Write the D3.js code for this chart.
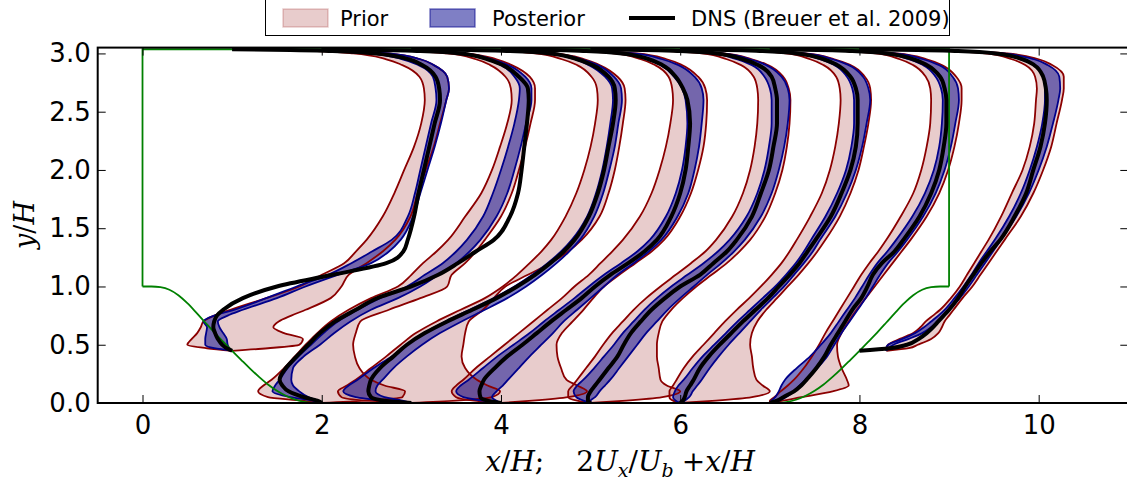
<!DOCTYPE html>
<html><head><meta charset="utf-8">
<script src="https://cdn.jsdelivr.net/npm/d3@7"></script>
<style>body{margin:0;background:#fff;} svg{display:block;}</style>
</head><body>
<svg id="chart" width="1127" height="482"></svg>
<script>
// Streamwise velocity profiles over the periodic hill: x/H + 2*Ux/Ub at eight stations.
const stationX = [1, 2, 3, 4, 5, 6, 7, 8];
// stations 1 and 8 sit on the hill flanks, the others on the flat floor
const yHill = [0.448,0.47,0.5,0.55,0.6,0.65,0.7,0.75,0.8,0.9,1.0,1.1,1.2,1.3,1.4,1.6,1.8,2.0,2.2,2.4,2.6,2.7,2.8,2.9,2.95,3.0,3.02,3.03,3.036];
const yFlat = [0,0.02,0.05,0.1,0.15,0.2,0.3,0.4,0.5,0.6,0.7,0.8,0.9,1.0,1.1,1.2,1.3,1.4,1.6,1.8,2.0,2.2,2.4,2.6,2.7,2.8,2.9,2.95,3.0,3.02,3.03,3.036];
const stationY = [yHill, yFlat, yFlat, yFlat, yFlat, yFlat, yFlat, yHill];

// 2Ux/Ub, DNS (Breuer et al. 2009)
const dnsU = [
  [0,-0.06,-0.11,-0.16,-0.19,-0.21,-0.2,-0.17,-0.1,0.12,0.5,1.12,1.72,1.91,1.96,2.03,2.08,2.14,2.2,2.26,2.32,2.31,2.27,2.12,1.97,1.6,1.12,0.65,0],
  [0,-0.05,-0.2,-0.37,-0.44,-0.47,-0.4,-0.28,-0.15,-0.02,0.15,0.38,0.62,1.0,1.3,1.52,1.72,1.92,2.1,2.19,2.23,2.26,2.29,2.31,2.3,2.2,2.02,1.85,1.55,1.1,0.65,0],
  [0,-0.3,-0.45,-0.48,-0.47,-0.45,-0.35,-0.2,-0.05,0.15,0.4,0.68,0.95,1.18,1.38,1.55,1.7,1.82,1.98,2.08,2.15,2.2,2.25,2.28,2.27,2.2,2.02,1.85,1.55,1.1,0.65,0],
  [0,-0.15,-0.23,-0.24,-0.22,-0.19,-0.07,0.07,0.24,0.4,0.56,0.73,0.9,1.05,1.22,1.42,1.6,1.74,1.9,2.0,2.06,2.09,2.11,2.08,2.03,1.95,1.8,1.65,1.35,0.95,0.55,0],
  [0,-0.03,-0.03,0.0,0.05,0.1,0.2,0.3,0.37,0.45,0.56,0.68,0.83,1.0,1.22,1.37,1.52,1.63,1.8,1.9,1.99,2.04,2.08,2.08,2.06,2.02,1.87,1.7,1.4,1.0,0.57,0],
  [0,0.03,0.05,0.07,0.11,0.15,0.22,0.32,0.44,0.57,0.7,0.84,0.98,1.1,1.22,1.33,1.42,1.51,1.68,1.8,1.9,1.96,1.98,1.98,1.96,1.9,1.75,1.6,1.3,0.92,0.53,0],
  [0,0.08,0.15,0.27,0.35,0.41,0.52,0.61,0.68,0.76,0.84,0.92,1.02,1.09,1.15,1.25,1.39,1.49,1.67,1.8,1.89,1.94,1.97,1.97,1.95,1.9,1.75,1.6,1.3,0.92,0.53,0],
  [0,0.34,0.53,0.66,0.75,0.82,0.88,0.94,1.0,1.1,1.18,1.27,1.36,1.46,1.57,1.73,1.86,1.94,2.02,2.07,2.09,2.08,2.05,1.95,1.82,1.52,1.1,0.65,0]
];
// prior ensemble envelope (min / max of 2Ux/Ub)
const priorLoU = [
  [0,-0.28,-0.5,-0.45,-0.39,-0.35,-0.32,-0.2,-0.02,0.38,0.75,1.0,1.25,1.38,1.5,1.68,1.81,1.92,2.03,2.11,2.15,2.14,2.09,1.9,1.72,1.35,0.95,0.55,0],
  [0,-0.22,-0.6,-0.71,-0.65,-0.56,-0.42,-0.3,-0.18,-0.05,0.1,0.3,0.55,0.85,1.0,1.13,1.28,1.41,1.6,1.78,1.9,1.99,2.07,2.12,2.11,2.05,1.88,1.72,1.4,1.0,0.55,0],
  [0,-0.5,-0.78,-0.82,-0.72,-0.62,-0.45,-0.28,-0.12,0.05,0.28,0.55,0.82,1.02,1.18,1.32,1.45,1.56,1.72,1.84,1.93,2.0,2.05,2.08,2.07,2.01,1.85,1.68,1.38,0.98,0.55,0],
  [0,-0.3,-0.5,-0.55,-0.5,-0.42,-0.28,-0.12,0.04,0.2,0.36,0.52,0.68,0.82,0.98,1.11,1.24,1.36,1.55,1.68,1.77,1.84,1.89,1.92,1.91,1.87,1.72,1.56,1.26,0.88,0.5,0],
  [0,-0.15,-0.25,-0.25,-0.2,-0.15,-0.05,0.05,0.14,0.24,0.36,0.48,0.62,0.78,0.95,1.12,1.28,1.4,1.58,1.7,1.78,1.83,1.86,1.87,1.86,1.82,1.68,1.52,1.24,0.88,0.5,0],
  [0,-0.08,-0.12,-0.12,-0.08,-0.04,0.04,0.14,0.26,0.38,0.5,0.63,0.77,0.9,1.02,1.13,1.22,1.3,1.45,1.58,1.67,1.73,1.77,1.79,1.78,1.74,1.6,1.45,1.18,0.84,0.48,0],
  [0,0.0,0.05,0.12,0.2,0.27,0.38,0.47,0.55,0.62,0.7,0.78,0.86,0.94,1.02,1.11,1.21,1.3,1.46,1.6,1.69,1.75,1.79,1.8,1.79,1.74,1.6,1.45,1.18,0.84,0.48,0],
  [0.3,0.3,0.32,0.45,0.6,0.68,0.74,0.82,0.9,1.02,1.12,1.2,1.28,1.36,1.44,1.58,1.7,1.82,1.9,1.95,1.97,1.98,1.96,1.85,1.7,1.4,1.0,0.58,0]
];
const priorHiU = [
  [0,0.4,0.75,0.79,0.58,0.46,0.52,0.66,0.82,1.1,1.22,1.3,1.5,1.68,1.82,1.99,2.07,2.16,2.25,2.32,2.39,2.42,2.4,2.25,2.1,1.75,1.25,0.75,0],
  [0,0.5,0.9,0.93,0.7,0.55,0.42,0.37,0.35,0.38,0.43,0.75,1.1,1.4,1.45,1.6,1.72,1.82,2.0,2.12,2.2,2.27,2.33,2.38,2.38,2.32,2.12,1.95,1.6,1.15,0.7,0],
  [0,0.5,0.9,0.99,0.85,0.73,0.6,0.56,0.58,0.6,0.64,0.8,0.92,1.05,1.3,1.55,1.75,1.9,2.1,2.2,2.27,2.32,2.36,2.39,2.38,2.3,2.1,1.93,1.6,1.13,0.7,0],
  [0,0.35,0.75,0.96,0.85,0.73,0.67,0.63,0.62,0.68,0.8,0.92,1.03,1.15,1.32,1.5,1.68,1.82,2.0,2.12,2.2,2.26,2.29,2.3,2.28,2.2,2.02,1.85,1.52,1.08,0.64,0],
  [0,0.4,0.8,1.0,0.85,0.78,0.76,0.74,0.74,0.76,0.8,0.9,1.03,1.18,1.35,1.52,1.66,1.78,1.95,2.06,2.14,2.19,2.22,2.23,2.21,2.15,1.98,1.8,1.48,1.05,0.62,0],
  [0,0.4,0.8,1.0,0.92,0.85,0.815,0.8,0.78,0.8,0.86,0.96,1.08,1.2,1.32,1.43,1.53,1.62,1.78,1.9,1.99,2.05,2.1,2.13,2.12,2.06,1.9,1.72,1.4,1.0,0.58,0],
  [0,0.15,0.35,0.7,0.88,0.86,0.8,0.76,0.75,0.8,0.88,0.97,1.07,1.17,1.27,1.37,1.47,1.57,1.75,1.89,1.99,2.06,2.11,2.14,2.14,2.08,1.92,1.75,1.42,1.01,0.58,0],
  [0.3,0.55,0.65,0.8,0.88,0.92,0.95,1.0,1.05,1.15,1.26,1.35,1.44,1.53,1.62,1.8,1.94,2.05,2.14,2.2,2.26,2.28,2.28,2.15,2.0,1.65,1.2,0.7,0]
];
// posterior ensemble envelope
const postLoU = [
  [0,-0.2,-0.3,-0.3,-0.29,-0.28,-0.32,-0.2,0.02,0.38,0.72,1.07,1.33,1.56,1.78,1.96,2.04,2.1,2.16,2.22,2.28,2.27,2.24,2.08,1.9,1.52,1.06,0.6,0],
  [0,-0.1,-0.35,-0.55,-0.52,-0.47,-0.38,-0.26,-0.12,0.02,0.18,0.4,0.65,0.95,1.15,1.35,1.5,1.62,1.8,1.91,2.0,2.08,2.15,2.2,2.21,2.15,2.0,1.83,1.5,1.05,0.6,0],
  [0,-0.3,-0.62,-0.76,-0.7,-0.6,-0.42,-0.22,-0.05,0.14,0.38,0.65,0.92,1.15,1.35,1.52,1.67,1.79,1.96,2.06,2.13,2.18,2.22,2.25,2.24,2.16,1.98,1.82,1.5,1.06,0.6,0],
  [0,-0.2,-0.42,-0.5,-0.45,-0.36,-0.2,-0.04,0.14,0.32,0.48,0.65,0.82,0.98,1.15,1.34,1.52,1.66,1.84,1.95,2.02,2.06,2.08,2.06,2.02,1.93,1.78,1.62,1.32,0.93,0.52,0],
  [0,-0.08,-0.16,-0.19,-0.15,-0.08,0.04,0.15,0.26,0.36,0.48,0.6,0.74,0.9,1.08,1.26,1.42,1.55,1.74,1.86,1.94,1.99,2.02,2.02,2.0,1.94,1.8,1.63,1.34,0.95,0.54,0],
  [0,-0.05,-0.08,-0.06,-0.02,0.04,0.14,0.25,0.38,0.51,0.64,0.78,0.92,1.06,1.18,1.29,1.38,1.46,1.62,1.75,1.85,1.91,1.94,1.94,1.92,1.86,1.72,1.56,1.27,0.9,0.51,0],
  [0,0.02,0.06,0.1,0.13,0.17,0.3,0.45,0.57,0.68,0.77,0.86,0.95,1.03,1.11,1.2,1.31,1.41,1.59,1.73,1.83,1.89,1.92,1.93,1.91,1.85,1.71,1.55,1.26,0.89,0.5,0],
  [0.3,0.3,0.32,0.48,0.62,0.72,0.8,0.88,0.95,1.06,1.16,1.25,1.33,1.42,1.51,1.67,1.8,1.9,1.98,2.04,2.07,2.07,2.05,1.94,1.8,1.48,1.08,0.63,0]
];
const postHiU = [
  [0,-0.03,-0.05,-0.06,-0.1,-0.14,-0.16,-0.05,0.12,0.5,0.82,1.18,1.55,1.75,1.88,2.02,2.1,2.18,2.26,2.33,2.39,2.42,2.4,2.25,2.1,1.75,1.25,0.75,0],
  [0,-0.05,-0.15,-0.25,-0.32,-0.34,-0.32,-0.2,-0.02,0.14,0.32,0.55,0.85,1.1,1.3,1.5,1.65,1.77,1.95,2.07,2.15,2.22,2.28,2.34,2.34,2.27,2.08,1.9,1.57,1.11,0.67,0],
  [0,-0.1,-0.3,-0.4,-0.38,-0.32,-0.2,-0.05,0.12,0.32,0.56,0.82,1.07,1.28,1.46,1.62,1.76,1.88,2.04,2.14,2.21,2.27,2.31,2.35,2.34,2.26,2.08,1.9,1.56,1.11,0.66,0],
  [0,-0.05,-0.1,-0.05,0.02,0.08,0.2,0.32,0.45,0.58,0.7,0.85,1.0,1.15,1.3,1.48,1.65,1.79,1.97,2.09,2.16,2.21,2.24,2.26,2.24,2.16,1.98,1.8,1.48,1.05,0.62,0],
  [0,0.0,0.05,0.1,0.16,0.22,0.32,0.42,0.52,0.62,0.74,0.86,1.0,1.15,1.3,1.46,1.6,1.72,1.9,2.02,2.1,2.16,2.2,2.22,2.2,2.13,1.96,1.78,1.46,1.04,0.6,0],
  [0,0.05,0.1,0.14,0.19,0.24,0.33,0.43,0.54,0.66,0.78,0.9,1.03,1.16,1.27,1.38,1.48,1.56,1.73,1.86,1.96,2.03,2.08,2.12,2.1,2.04,1.88,1.7,1.38,0.98,0.57,0],
  [0,0.1,0.18,0.27,0.33,0.4,0.53,0.64,0.72,0.8,0.89,0.98,1.07,1.15,1.23,1.32,1.43,1.53,1.71,1.85,1.95,2.02,2.07,2.11,2.1,2.04,1.89,1.71,1.39,0.99,0.57,0],
  [0.3,0.32,0.38,0.55,0.7,0.8,0.87,0.94,1.0,1.12,1.22,1.31,1.4,1.49,1.58,1.75,1.89,2.0,2.09,2.16,2.22,2.24,2.23,2.1,1.95,1.6,1.16,0.68,0]
];

// hill crest-to-floor contour (left hill), mirrored about x/H = 4.5 for the right hill
const hillX = [0,0.1,0.2,0.3,0.4,0.5,0.6,0.7,0.8,0.9,1.0,1.1,1.2,1.3,1.4,1.5,1.6,1.7,1.8,1.9,1.929];
const hillY = [1.0,1.0,0.994,0.972,0.925,0.857,0.776,0.691,0.607,0.527,0.448,0.371,0.295,0.224,0.159,0.105,0.062,0.030,0.010,0.0005,0];
const channelTop = 3.036;
const channelLength = 9;

const xTicks = [0, 2, 4, 6, 8, 10];
const yTicks = [0, 0.5, 1.0, 1.5, 2.0, 2.5, 3.0];

const L = 97.7, R = 1128.3, T = 47.6, B = 403;
const x = d3.scaleLinear().domain([-0.5, 11]).range([L, R]);
const y = d3.scaleLinear().domain([0, 3.05]).range([B, T]);

const svg = d3.select('#chart');
svg.append('defs').append('clipPath').attr('id', 'plotClip')
  .append('rect').attr('x', L).attr('y', T).attr('width', R - L).attr('height', B - T);
const plot = svg.append('g').attr('clip-path', 'url(#plotClip)');

const PRIOR_FILL = 'rgba(139,0,0,0.2)', PRIOR_EDGE = '#8b0000';
const POST_FILL = 'rgba(0,0,139,0.5)', POST_EDGE = '#00008b';

function profile(i, arr) {
  return stationY[i].map((yy, k) => ({ y: yy, u: stationX[i] + arr[i][k] }));
}
function band(i, lo, hi) {
  return stationY[i].map((yy, k) => ({ y: yy, lo: stationX[i] + lo[i][k], hi: stationX[i] + hi[i][k] }));
}

const area = d3.area().y(d => y(d.y)).x0(d => x(d.lo)).x1(d => x(d.hi)).curve(d3.curveMonotoneY);
const edge = d3.line().x(d => x(d.u)).y(d => y(d.y)).curve(d3.curveMonotoneY);

// fills first (prior, then posterior)
stationX.forEach((s, i) => {
  plot.append('path').attr('d', area(band(i, priorLoU, priorHiU))).attr('fill', PRIOR_FILL).attr('stroke', 'none');
});
stationX.forEach((s, i) => {
  plot.append('path').attr('d', area(band(i, postLoU, postHiU))).attr('fill', POST_FILL).attr('stroke', 'none');
});
// envelope edges
stationX.forEach((s, i) => {
  [priorLoU, priorHiU].forEach(a => plot.append('path').attr('d', edge(profile(i, a)))
    .attr('fill', 'none').attr('stroke', PRIOR_EDGE).attr('stroke-width', 1.8).attr('stroke-linejoin', 'round'));
});
stationX.forEach((s, i) => {
  [postLoU, postHiU].forEach(a => plot.append('path').attr('d', edge(profile(i, a)))
    .attr('fill', 'none').attr('stroke', POST_EDGE).attr('stroke-width', 1.8).attr('stroke-linejoin', 'round'));
});

// channel geometry
const bottom = hillX.map((h, k) => [h, hillY[k]])
  .concat(hillX.slice().reverse().map((h, k) => [channelLength - h, hillY[hillX.length - 1 - k]]));
plot.append('path')
  .attr('d', d3.line().x(d => x(d[0])).y(d => y(d[1])).curve(d3.curveMonotoneX)(bottom))
  .attr('fill', 'none').attr('stroke', '#008000').attr('stroke-width', 1.8);
plot.append('path')
  .attr('d', d3.line().x(d => x(d[0])).y(d => y(d[1]))([[0, 1], [0, channelTop], [channelLength, channelTop], [channelLength, 1]]))
  .attr('fill', 'none').attr('stroke', '#008000').attr('stroke-width', 1.8);

// DNS reference profiles
stationX.forEach((s, i) => {
  plot.append('path').attr('d', edge(profile(i, dnsU)))
    .attr('fill', 'none').attr('stroke', '#000').attr('stroke-width', 4).attr('stroke-linejoin', 'round');
});

// axes: ticks pointing inward on all four sides
const tickFont = 'DejaVu Sans';
const gB = svg.append('g').attr('transform', `translate(0,${B})`)
  .call(d3.axisBottom(x).tickValues(xTicks).tickFormat(d3.format('d')).tickSizeInner(-8).tickSizeOuter(0).tickPadding(13));
const gT = svg.append('g').attr('transform', `translate(0,${T})`)
  .call(d3.axisTop(x).tickValues(xTicks).tickFormat('').tickSizeInner(-8).tickSizeOuter(0));
const gL = svg.append('g').attr('transform', `translate(${L},0)`)
  .call(d3.axisLeft(y).tickValues(yTicks).tickFormat(d3.format('.1f')).tickSizeInner(-8).tickSizeOuter(0).tickPadding(7));
const gR = svg.append('g').attr('transform', `translate(${R},0)`)
  .call(d3.axisRight(y).tickValues(yTicks).tickFormat('').tickSizeInner(-8).tickSizeOuter(0));
[gB, gT, gL, gR].forEach(g => {
  g.select('.domain').remove();
  g.selectAll('.tick line').attr('stroke', '#000').attr('stroke-width', 1);
  g.selectAll('text').attr('font-family', tickFont).attr('font-size', 26).attr('fill', '#000');
});
svg.append('rect').attr('x', L).attr('y', T).attr('width', R - L).attr('height', B - T)
  .attr('fill', 'none').attr('stroke', '#000').attr('stroke-width', 2);

// axis titles (math style)
const mathFont = 'DejaVu Serif';
const yl = svg.append('text').attr('transform', 'translate(34,225) rotate(-90)')
  .attr('text-anchor', 'middle').attr('font-family', mathFont).attr('font-size', 27);
yl.append('tspan').attr('font-style', 'italic').text('y');
yl.append('tspan').text('/');
yl.append('tspan').attr('font-style', 'italic').text('H');

const xl = svg.append('text').attr('x', 620).attr('y', 471)
  .attr('text-anchor', 'middle').attr('font-family', mathFont).attr('font-size', 28);
const it = (t) => xl.append('tspan').attr('font-style', 'italic').text(t);
const up = (t) => xl.append('tspan').text(t);
it('x'); up('/'); it('H'); up(';');
xl.append('tspan').attr('dx', 32).text('2');
it('U');
xl.append('tspan').attr('font-style', 'italic').attr('font-size', 19).attr('dy', 6).text('x');
xl.append('tspan').attr('dy', -6).text('/');
it('U');
xl.append('tspan').attr('font-style', 'italic').attr('font-size', 19).attr('dy', 6).text('b');
xl.append('tspan').attr('dy', -6).attr('dx', 8).text('+');
it('x'); up('/'); it('H');

// legend
const lg = svg.append('g');
lg.append('rect').attr('x', 265.5).attr('y', -10).attr('width', 684).attr('height', 45.5)
  .attr('fill', '#fff').attr('stroke', '#000').attr('stroke-width', 1);
const legendItems = [
  { kind: 'patch', fill: PRIOR_FILL, stroke: 'rgba(139,0,0,0.2)', x: 283, label: 'Prior', tx: 340 },
  { kind: 'patch', fill: POST_FILL, stroke: 'rgba(0,0,139,0.5)', x: 430, label: 'Posterior', tx: 492 },
  { kind: 'line', x: 629, label: 'DNS (Breuer et al. 2009)', tx: 691 }
];
legendItems.forEach(d => {
  if (d.kind === 'patch') {
    lg.append('rect').attr('x', d.x).attr('y', 9).attr('width', 45).attr('height', 18)
      .attr('fill', d.fill).attr('stroke', d.stroke).attr('stroke-width', 1.5);
  } else {
    lg.append('line').attr('x1', d.x).attr('x2', d.x + 46).attr('y1', 18).attr('y2', 18)
      .attr('stroke', '#000').attr('stroke-width', 4);
  }
  lg.append('text').attr('x', d.tx).attr('y', 26).attr('font-family', tickFont).attr('font-size', 21)
    .attr('fill', '#000').text(d.label);
});
</script>
</body></html>
